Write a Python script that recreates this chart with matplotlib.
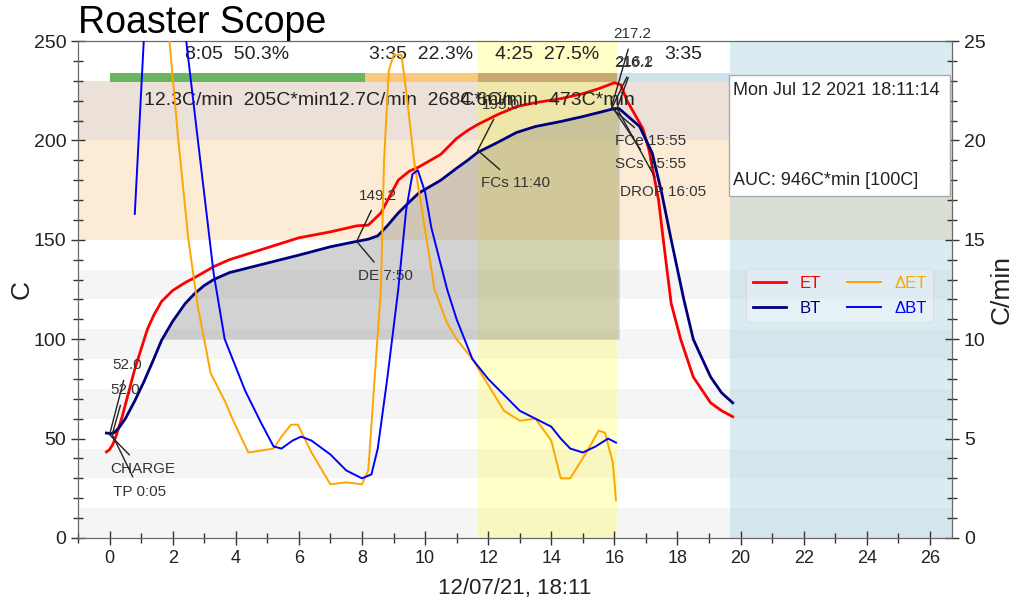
import numpy as np
import matplotlib
matplotlib.use("Agg")
import matplotlib.pyplot as plt
from matplotlib.ticker import MultipleLocator
from matplotlib.patches import Rectangle
from matplotlib import font_manager

# ---------------- data ----------------
et_time = [-0.1, 0.0, 0.1, 0.2, 0.4, 0.6, 0.8, 1.0, 1.2, 1.4, 1.65, 2.0, 2.4, 2.7, 3.3, 3.8, 4.8, 6.0,
           7.0, 7.83, 8.2, 8.6, 9.15, 9.5, 9.8, 10.5, 11.0, 11.35, 11.67, 12.3, 12.9, 13.5, 14.3,
           15.0, 15.5, 16.0, 16.2, 16.4, 16.9, 17.1, 17.4, 17.55, 17.8, 18.1, 18.5, 19.05, 19.4, 19.75]
et_temp = [43.3, 44.5, 47, 51, 61, 73, 85, 95, 105, 112, 119, 124.5, 128.5, 131, 136.5, 140, 145, 151,
           154, 157, 157.4, 163.5, 180, 184.5, 186.6, 193, 201, 205, 208, 213, 217, 219, 221,
           223.5, 226, 229, 228, 220, 206, 195, 170, 150, 118, 100, 81, 68, 64, 61]

bt_time = [-0.1, 0.05, 0.15, 0.3, 0.5, 0.8, 1.1, 1.4, 1.65, 2.0, 2.4, 2.7, 3.0, 3.3, 3.8, 4.8, 6.0, 7.0,
           7.83, 8.2, 8.5, 8.8, 9.15, 9.5, 9.8, 10.5, 11.0, 11.35, 11.67, 12.3, 12.9, 13.5, 14.3,
           15.0, 15.5, 16.0, 16.15, 16.8, 17.2, 17.5, 17.8, 18.2, 18.5, 18.7, 19.05, 19.4, 19.75]
bt_temp = [52.8, 52.5, 53, 55.5, 60, 69, 79, 90, 99.5, 109, 118, 123, 127, 130, 133.5, 137.5, 142.3, 146.5,
           149.2, 150.3, 152, 157, 163.5, 169, 173.5, 180, 186, 190, 194, 199, 204, 207, 209.5,
           212, 214, 216, 216, 207, 193.6, 173.5, 150, 120, 100, 93, 81, 73, 68]

det_time = [1.5, 1.9, 2.18, 2.5, 2.8, 3.0, 3.2, 3.65, 3.95, 4.4, 4.8, 5.2, 5.45, 5.75, 5.97, 6.4, 6.7,
            7.0, 7.5, 8.0, 8.2, 8.4, 8.6, 8.7, 8.85, 9.0, 9.25, 9.4, 9.65, 10.3, 10.7, 11.0, 11.5,
            12.0, 12.5, 13.0, 13.5, 14.0, 14.3, 14.6, 15.15, 15.5, 15.7, 15.95, 16.05]
det_vals = [35, 25, 20, 15, 11.6, 10, 8.3, 6.9, 5.8, 4.3, 4.4, 4.5, 5.1, 5.7, 5.7, 4.3, 3.5,
            2.7, 2.8, 2.7, 3.4, 8, 12.5, 19, 23.5, 24.3, 24.3, 22.5, 19, 12.5, 10.8, 10.0, 9.0,
            7.7, 6.4, 5.9, 6.0, 4.9, 3.0, 3.0, 4.4, 5.4, 5.3, 3.8, 1.9]

dbt_time = [0.8, 1.1, 1.5, 2.0, 2.43, 2.8, 3.3, 3.65, 4.3, 4.8, 5.2, 5.45, 5.8, 6.07, 6.4, 7.0, 7.5,
            8.0, 8.3, 8.5, 8.8, 9.15, 9.4, 9.6, 9.77, 10.0, 10.2, 10.7, 11.0, 11.5, 12.0, 12.5,
            13.0, 13.5, 14.0, 14.3, 14.6, 15.0, 15.4, 15.8, 16.05]
dbt_vals = [16.3, 25.5, 32, 32, 25, 20, 13.3, 10, 7.4, 5.8, 4.6, 4.5, 4.9, 5.1, 4.9, 4.2, 3.4,
            3.0, 3.2, 4.5, 8, 12.5, 16.5, 18.3, 18.5, 17.4, 15.6, 12.5, 11.0, 9.0, 8.0, 7.2,
            6.4, 6.0, 5.6, 5.0, 4.5, 4.3, 4.6, 5.0, 4.8]

event_labels = ["CHARGE", "TP 0:05", "DE 7:50", "FCs 11:40", "FCe 15:55", "SCs 15:55", "DROP 16:05"]
event_times = [0.0, 0.083, 7.833, 11.667, 15.917, 15.917, 16.083]
event_temps = [52.0, 52.0, 149.2, 195.0, 216.2, 217.2, 216.1]

phase_bounds = [0.0, 8.083, 11.667, 16.083, 19.667]
phase_top = ["8:05  50.3%", "3:35  22.3%", "4:25  27.5%", "3:35"]
phase_bottom = ["12.3C/min  205C*min", "12.7C/min  268C*min", "4.6C/min  473C*min", ""]

auc_base = 100
title_text = "Roaster Scope"
date_text = "Mon Jul 12 2021 18:11:14"
auc_text = "AUC: 946C*min [100C]"
x_label = "12/07/21, 18:11"

# ---------------- style ----------------
plt.rcParams['font.family'] = ['Liberation Sans', 'DejaVu Sans']
try:
    font_manager.findfont('Liberation Sans Narrow', fallback_to_default=False)
    narrow = ['Liberation Sans Narrow', 'DejaVu Sans']
except Exception:
    narrow = ['Liberation Sans', 'DejaVu Sans']

ET_C, BT_C, DET_C, DBT_C = '#ff0000', '#00007f', '#ffa500', '#0000ff'
TXT = '#222222'
ANN = '#333333'

fig = plt.figure(figsize=(10.24, 6.04), dpi=100)
ax = fig.add_axes([78 / 1024, 1 - 538 / 604, (952 - 78) / 1024, (538 - 41) / 604])
ax2 = ax.twinx()

ax.set_xlim(-1.0, 26.7)
ax.set_ylim(0, 250)
ax2.set_ylim(0, 25)

# background horizontal stripes
for lo in [0, 30, 60, 90, 120]:
    ax.axhspan(lo, lo + 15, color='#000000', alpha=0.04, lw=0, zorder=0)
# phase temperature bands
ax.axhspan(150, 200, color='#f7b75b', alpha=0.25, lw=0, zorder=0)
ax.axhspan(200, 230, color='#b38b6b', alpha=0.25, lw=0, zorder=0)
# development / cooling vertical bands
ax.axvspan(phase_bounds[2], phase_bounds[3], color='#ffff00', alpha=0.22, lw=0, zorder=0)
ax.axvspan(phase_bounds[4], 26.7, color='#8ac0d7', alpha=0.3, lw=0, zorder=0)

# AUC fill (from BT crossing the base until DROP)
bt_t = np.array(bt_time)
bt_v = np.array(bt_temp)
sel = bt_t <= phase_bounds[3] + 0.1
ax.fill_between(bt_t[sel], auc_base, bt_v[sel], where=bt_v[sel] >= auc_base, interpolate=True,
                color='#808080', alpha=0.35, lw=0, zorder=1)

# phase bar
bar_colors = ['#6ab462', '#f9c878', '#c8a873', '#cce3ec']
for i in range(4):
    ax.broken_barh([(phase_bounds[i], phase_bounds[i + 1] - phase_bounds[i])], (229.5, 4.5),
                   facecolors=bar_colors[i], lw=0, zorder=2)
    xc = (phase_bounds[i] + phase_bounds[i + 1]) / 2
    if i == 3:
        xc += 0.3
    ax.text(xc, 243, phase_top[i], ha='center', va='center', fontsize=14, color=TXT, zorder=5)
    if phase_bottom[i]:
        ax.text(xc, 220, phase_bottom[i], ha='center', va='center', fontsize=14, color=TXT, zorder=5)

# curves
l_et, = ax.plot(et_time, et_temp, color=ET_C, lw=2.0, zorder=4, label='ET')
l_bt, = ax.plot(bt_time, bt_temp, color=BT_C, lw=2.0, zorder=4, label='BT')
l_det, = ax2.plot(det_time, det_vals, color=DET_C, lw=1.4, zorder=3, label='\u0394ET')
l_dbt, = ax2.plot(dbt_time, dbt_vals, color=DBT_C, lw=1.4, zorder=3, label='\u0394BT')

# annotations: (temp label offset, event label offset) in points
temp_offsets = [(13, 50), (9, 32), (15.5, 33), (17, 33), (16, 33), (15, 52), (12, 33)]
label_offsets = [(24, -24.5), (20, -41), (21, -25), (27, -23.5), (27.6, -23.6), (27.6, -41.6), (33, -60)]
for name, t, v, to, lo in zip(event_labels, event_times, event_temps, temp_offsets, label_offsets):
    ap = dict(arrowstyle='-', color='#222222', lw=1.0, shrinkA=4, shrinkB=0)
    ax.annotate(f"{v:.1f}", xy=(t, v), xytext=to, textcoords='offset points', ha='center',
                va='center', fontsize=11, color=ANN, arrowprops=ap, zorder=6, annotation_clip=False)
    ax.annotate(name, xy=(t, v), xytext=lo, textcoords='offset points', ha='center',
                va='center', fontsize=11, color=ANN, arrowprops=ap, zorder=6, annotation_clip=False)

# axes cosmetics
ax.xaxis.set_major_locator(MultipleLocator(2))
ax.xaxis.set_minor_locator(MultipleLocator(1))
ax.yaxis.set_major_locator(MultipleLocator(50))
ax.yaxis.set_minor_locator(MultipleLocator(10))
ax2.yaxis.set_major_locator(MultipleLocator(5))
ax2.yaxis.set_minor_locator(MultipleLocator(1))
for a in (ax, ax2):
    a.tick_params(which='major', direction='inout', length=10, width=1, color='#333333',
                  labelcolor=TXT, labelsize=14)
    a.tick_params(which='minor', direction='inout', length=7, width=1, color='#333333')
    for s in a.spines.values():
        s.set_color('#666666')
for lbl in ax.get_xticklabels():
    lbl.set_family(narrow)
    lbl.set_fontsize(13)

ax.set_xlabel(x_label, fontsize=16, family=narrow, color=TXT, labelpad=8)
ax.set_ylabel('C', fontsize=19, color=TXT, rotation=90, labelpad=0)
ax2.set_ylabel('C/min', fontsize=19, color=TXT, labelpad=3)

fig.text(78 / 1024, 1 - 33 / 604, title_text, fontsize=27, color='black', ha='left', va='baseline')

# date / AUC box
ax2.add_patch(Rectangle((0.745, 0.688), 0.253, 0.244, transform=ax.transAxes, facecolor='white',
                        edgecolor='#aaaaaa', lw=1, zorder=7))
ax2.text(0.749, 0.901, date_text, transform=ax.transAxes, fontsize=13, color=TXT, va='center',
         ha='left', zorder=8)
ax2.text(0.749, 0.720, auc_text, transform=ax.transAxes, fontsize=13, color=TXT, va='center',
         ha='left', zorder=8)

leg = ax2.legend(handles=[l_et, l_bt, l_det, l_dbt], ncol=2, loc='upper right',
                 bbox_to_anchor=(0.988, 0.558), fontsize=12, labelcolor='linecolor',
                 frameon=True, framealpha=0.3, edgecolor='#cccccc', fancybox=True,
                 handlelength=2.0, columnspacing=1.6, labelspacing=0.6, handletextpad=0.8)
leg.set_zorder(9)

fig.savefig('out.png', dpi=100)
